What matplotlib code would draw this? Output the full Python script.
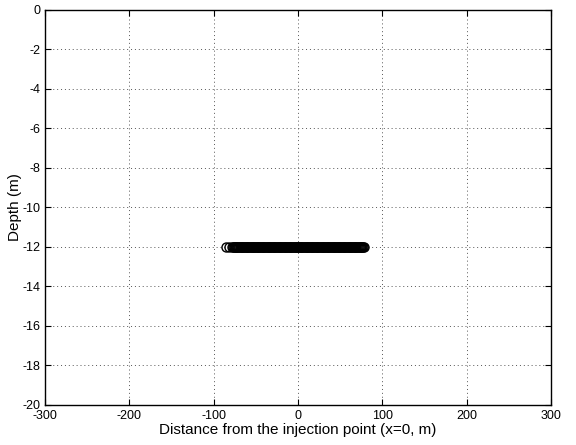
import matplotlib
matplotlib.use("Agg")
import matplotlib.pyplot as plt

plt.rcParams['font.family'] = ['Liberation Sans', 'DejaVu Sans']
plt.rcParams['axes.unicode_minus'] = False

x_pos = [-85, -82, -78, -77, -76, -75, -74, -73, -72, -71, -70, -69, -68, -67, -66,
         -65, -64, -63, -62, -61, -60, -59, -58, -57, -56, -55, -54, -53, -52, -51,
         -50, -49, -48, -47, -46, -45, -44, -43, -42, -41, -40, -39, -38, -37, -36,
         -35, -34, -33, -32, -31, -30, -29, -28, -27, -26, -25, -24, -23, -22, -21,
         -20, -19, -18, -17, -16, -15, -14, -13, -12, -11, -10, -9, -8, -7, -6, -5,
         -4, -3, -2, -1, 0, 1, 2, 3, 4, 5, 6, 7, 8, 9, 10, 11, 12, 13, 14, 15, 16,
         17, 18, 19, 20, 21, 22, 23, 24, 25, 26, 27, 28, 29, 30, 31, 32, 33, 34, 35,
         36, 37, 38, 39, 40, 41, 42, 43, 44, 45, 46, 47, 48, 49, 50, 51, 52, 53, 54,
         55, 56, 57, 58, 59, 60, 61, 62, 63, 64, 65, 66, 67, 68, 69, 70, 71, 72, 73,
         74, 75, 76, 77, 78]
depth = [-12] * len(x_pos)

xticks = [-300, -200, -100, 0, 100, 200, 300]
yticks = [0, -2, -4, -6, -8, -10, -12, -14, -16, -18, -20]

fig = plt.figure(figsize=(5.76, 4.45), dpi=100)
ax = fig.add_axes([0.078, 0.09, 0.879, 0.888])
ax.plot(x_pos, depth, linestyle='none', marker='o', markersize=6.5,
        markerfacecolor='none', markeredgecolor='black', markeredgewidth=1.0)
ax.set_xlim(-300, 300)
ax.set_ylim(-20, 0)
ax.set_xticks(xticks)
ax.set_yticks(yticks)
ax.grid(True, linestyle=(0, (1, 3)), color='#555555', linewidth=0.7)
ax.tick_params(direction='in', top=True, right=True, labelsize=9, length=4)
for s in ax.spines.values():
    s.set_linewidth(1.0)
ax.set_xlabel('Distance from the injection point (x=0, m)', fontsize=11, labelpad=1)
ax.set_ylabel('Depth (m)', fontsize=11, labelpad=0)
fig.savefig('out.png', dpi=100)
